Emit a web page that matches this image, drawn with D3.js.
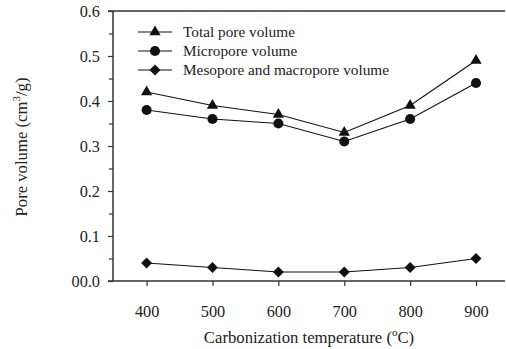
<!DOCTYPE html>
<html><head><meta charset="utf-8">
<script src="https://cdn.jsdelivr.net/npm/d3@7"></script>
<style>body{margin:0;background:#fff}svg{display:block}text{font-family:"Liberation Serif","Times New Roman",serif;fill:#222}</style>
</head><body><svg id="c" width="506" height="349"></svg>
<script>
const temps = [400, 500, 600, 700, 800, 900];
const totalPore = [0.42, 0.39, 0.37, 0.33, 0.39, 0.49];
const microPore = [0.38, 0.36, 0.35, 0.31, 0.36, 0.44];
const mesoMacroPore = [0.04, 0.03, 0.02, 0.02, 0.03, 0.05];
const seriesNames = ["Total pore volume", "Micropore volume", "Mesopore and macropore volume"];
const yTicks = [0, 0.1, 0.2, 0.3, 0.4, 0.5, 0.6];
const yTickLabels = ["00.0", "0.1", "0.2", "0.3", "0.4", "0.5", "0.6"];

const svg = d3.select("#c");
const L = 113, R = 505, T = 11, B = 281;
const x = d3.scaleLinear().domain([349, 944]).range([L, R]);
const y = d3.scaleLinear().domain([0, 0.6]).range([B, T]);

// x axis
const xa = svg.append("g").attr("transform", `translate(0,${B})`)
  .call(d3.axisBottom(x).tickValues(temps).tickSize(5).tickPadding(19).tickFormat(d3.format("d")));
xa.select(".domain").attr("d", `M${L-5},0H${R}`);
// y axis
const ya = svg.append("g").attr("transform", `translate(${L},0)`)
  .call(d3.axisLeft(y).tickValues(yTicks).tickSize(5).tickPadding(8).tickFormat((d,i)=>yTickLabels[i]));
const yMinor = svg.append("g").attr("transform", `translate(${L},0)`)
  .call(d3.axisLeft(y).tickValues([0.05,0.15,0.25,0.35,0.45,0.55]).tickSize(4).tickFormat(""));
yMinor.select(".domain").remove();
ya.select(".domain").attr("d", `M0,${B}V${T}`);
[xa, ya, yMinor].forEach(g => {
  g.selectAll("line").attr("stroke", "#333").attr("stroke-width", 1.2);
  g.selectAll(".domain").attr("stroke", "#333").attr("stroke-width", 1.5);
  g.selectAll("text").attr("font-size", 16.3).attr("font-family", "Liberation Serif").attr("fill", "#222");
});
// top border
svg.append("line").attr("x1", L-5).attr("x2", R).attr("y1", y(0.6)).attr("y2", y(0.6))
  .attr("stroke", "#333").attr("stroke-width", 1.5);

const sym = [d3.symbolTriangle, d3.symbolCircle, d3.symbolSquare];
const symSize = [55, 80, 60];
const symRot = [0, 0, 45];
const allSeries = [totalPore, microPore, mesoMacroPore];
const line = d3.line().x((d,i)=>x(temps[i])).y(d=>y(d));
allSeries.forEach((s, k) => {
  svg.append("path").attr("d", line(s)).attr("fill", "none").attr("stroke", "#111").attr("stroke-width", 1.1);
  svg.selectAll(null).data(s).enter().append("path")
    .attr("d", d3.symbol().type(sym[k]).size(symSize[k]))
    .attr("transform", (d,i)=>`translate(${x(temps[i])},${y(d)}) rotate(${symRot[k]})`)
    .attr("fill", "#111");
});

// legend
seriesNames.forEach((n, k) => {
  const yy = 32 + k * 19;
  svg.append("line").attr("x1", 138).attr("x2", 172).attr("y1", yy).attr("y2", yy).attr("stroke", "#111").attr("stroke-width", 1.1);
  svg.append("path").attr("d", d3.symbol().type(sym[k]).size(symSize[k])).attr("transform", `translate(155,${yy}) rotate(${symRot[k]})`).attr("fill", "#111");
  svg.append("text").attr("x", 183).attr("y", yy + 5).attr("font-size", 15.3).text(n);
});

// axis titles
const xt = svg.append("text").attr("x", 309).attr("y", 343).attr("text-anchor", "middle").attr("font-size", 16.7);
xt.append("tspan").text("Carbonization temperature (");
xt.append("tspan").attr("dy", -7).attr("font-size", 11).text("o");
xt.append("tspan").attr("dy", 7).text("C)");

const yt = svg.append("text").attr("transform", "translate(27,147) rotate(-90)").attr("text-anchor", "middle").attr("font-size", 16.7);
yt.append("tspan").text("Pore volume (cm");
yt.append("tspan").attr("dy", -7).attr("font-size", 11).text("3");
yt.append("tspan").attr("dy", 7).text("/g)");
</script></body></html>
